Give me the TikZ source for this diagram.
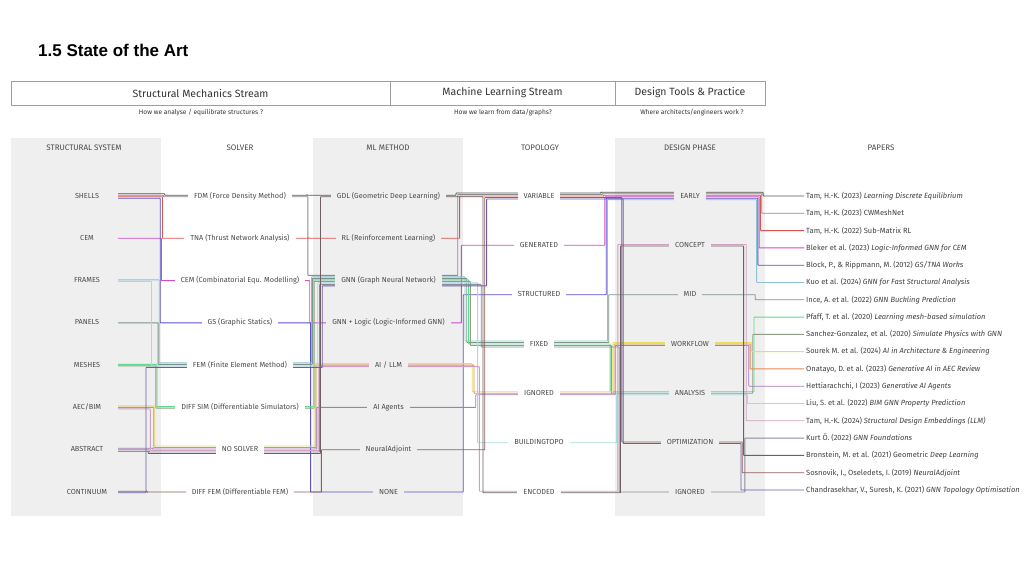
\documentclass[tikz,border=0pt]{standalone}
\usepackage{fontspec}
\setmainfont{Fira Sans}
\newfontfamily\titlefont{Liberation Sans}
\usetikzlibrary{calc}
\pgfdeclarelayer{panels}
\pgfdeclarelayer{lines}
\pgfsetlayers{panels,lines,main}
\definecolor{panelgray}{HTML}{EFEFEF}
\definecolor{txt}{HTML}{4A4A4A}
\definecolor{hdr}{HTML}{333333}
\definecolor{pc1}{HTML}{555555}
\definecolor{pc2}{HTML}{8C8C8C}
\definecolor{pc3}{HTML}{D9534F}
\definecolor{pc4}{HTML}{D44AC8}
\definecolor{pc5}{HTML}{5A4FCF}
\definecolor{pc6}{HTML}{8EC1D6}
\definecolor{pc7}{HTML}{7D9488}
\definecolor{pc8}{HTML}{5FD98F}
\definecolor{pc9}{HTML}{8F9E84}
\definecolor{pc10}{HTML}{E3E15A}
\definecolor{pc11}{HTML}{E9894C}
\definecolor{pc12}{HTML}{A77BB9}
\definecolor{pc13}{HTML}{A7DADF}
\definecolor{pc14}{HTML}{CFA0BF}
\definecolor{pc15}{HTML}{8B8B9B}
\definecolor{pc16}{HTML}{6F5F62}
\definecolor{pc17}{HTML}{8F5F56}
\definecolor{pc18}{HTML}{6C5CA8}
\tikzset{
  lbl/.style={font=\fontsize{7.3}{8.5}\selectfont, text=txt, inner xsep=6pt, inner ysep=3.3pt, text height=5.4pt, text depth=1.3pt},
  lblg/.style={lbl, fill=panelgray},
  lblw/.style={lbl, fill=white},
  colhead/.style={font=\fontsize{8}{9}\selectfont, text=txt},
  hbox/.style={draw=black!38, line width=0.6pt, minimum height=24pt, font=\fontsize{10.5}{12}\selectfont, text=hdr, inner sep=0pt},
  sub/.style={font=\fontsize{6.6}{8}\selectfont, text=hdr},
  paper/.style={font=\fontsize{7.5}{9}\selectfont, text=black!75, anchor=west, inner sep=0pt},
  flow/.style={line width=0.85pt, rounded corners=0.5pt}
}
\begin{document}
\begin{tikzpicture}[x=1pt,y=-1pt]
\useasboundingbox (0,0) rectangle (1024,576);
% title
\node[anchor=base west, inner sep=0pt, font=\titlefont\bfseries\fontsize{17}{20}\selectfont] (title) at (38,56) {1.5 State of the Art};
% stream header boxes
\node[hbox, minimum width=379pt] (hsm) at (200.5,93) {Structural Mechanics Stream};
\node[hbox, minimum width=225pt] (hml) at (502.5,93) {Machine Learning Stream};
\node[hbox, minimum width=150pt] (hdt) at (690,93) {Design Tools \& Practice};
\node[sub] (ssm) at (201,113) {How we analyse / equilibrate structures ?};
\node[sub] (sml) at (503,113) {How we learn from data/graphs?};
\node[sub] (sdt) at (692,113) {Where architects/engineers work ?};
% panels
\begin{pgfonlayer}{panels}
\fill[panelgray] (11,138) rectangle (161,516);
\fill[panelgray] (313,138) rectangle (463,516);
\fill[panelgray] (615,138) rectangle (765,516);
\end{pgfonlayer}
% column headers
\node[colhead] (hSys) at (84,148) {STRUCTURAL SYSTEM};
\node[colhead] (hSol) at (240,148) {SOLVER};
\node[colhead] (hMl) at (388,148) {ML METHOD};
\node[colhead] (hTop) at (540,148) {TOPOLOGY};
\node[colhead] (hDes) at (690,148) {DESIGN PHASE};
\node[colhead] (hPap) at (881,148) {PAPERS};
% column 1
\node[lblg] (sShells) at (87,196) {SHELLS};
\node[lblg] (sCem) at (87,238.3) {CEM};
\node[lblg] (sFrames) at (87,280.6) {FRAMES};
\node[lblg] (sPanels) at (87,322.9) {PANELS};
\node[lblg] (sMeshes) at (87,365.1) {MESHES};
\node[lblg] (sAec) at (87,407.4) {AEC/BIM};
\node[lblg] (sAbstract) at (87,449.7) {ABSTRACT};
\node[lblg] (sCont) at (87,492) {CONTINUUM};
% column 2
\node[lblw] (vFdm) at (240,196) {FDM (Force Density Method)};
\node[lblw] (vTna) at (240,238.3) {TNA (Thrust Network Analysis)};
\node[lblw] (vCem) at (240,280.6) {CEM (Combinatorial Equ. Modelling)};
\node[lblw] (vGs) at (240,322.9) {GS (Graphic Statics)};
\node[lblw] (vFem) at (240,365.1) {FEM (Finite Element Method)};
\node[lblw] (vDsim) at (240,407.4) {DIFF SIM (Differentiable Simulators)};
\node[lblw] (vNos) at (240,449.7) {NO SOLVER};
\node[lblw] (vDfem) at (240,492) {DIFF FEM (Differentiable FEM)};
% column 3
\node[lblg] (mGdl) at (388.5,196) {GDL (Geometric Deep Learning)};
\node[lblg] (mRl) at (388.5,238.3) {RL (Reinforcement Learning)};
\node[lblg] (mGnn) at (388.5,280.6) {GNN (Graph Neural Network)};
\node[lblg] (mGnnl) at (388.5,322.9) {GNN + Logic (Logic-Informed GNN)};
\node[lblg] (mLlm) at (388.5,365.1) {AI / LLM};
\node[lblg] (mAgents) at (388.5,407.4) {AI Agents};
\node[lblg] (mAdj) at (388.5,449.7) {NeuralAdjoint};
\node[lblg] (mNone) at (388.5,492) {NONE};
% column 4
\node[lblw] (tVar) at (539,196) {VARIABLE};
\node[lblw] (tGen) at (539,245.3) {GENERATED};
\node[lblw] (tStruct) at (539,294.7) {STRUCTURED};
\node[lblw] (tFixed) at (539,344) {FIXED};
\node[lblw] (tIgn) at (539,393.3) {IGNORED};
\node[lblw] (tBtopo) at (539,442.7) {BUILDINGTOPO};
\node[lblw] (tEnc) at (539,492) {ENCODED};
% column 5
\node[lblg] (dEarly) at (690,196) {EARLY};
\node[lblg] (dConcept) at (690,245.3) {CONCEPT};
\node[lblg] (dMid) at (690,294.7) {MID};
\node[lblg] (dWork) at (690,344) {WORKFLOW};
\node[lblg] (dAna) at (690,393.3) {ANALYSIS};
\node[lblg] (dOpt) at (690,442.7) {OPTIMIZATION};
\node[lblg] (dIgn) at (690,492) {IGNORED};
% papers
\node[paper] (p1) at (806,196) {Tam, H.-K. (2023) \textit{Learning Discrete Equilibrium}};
\node[paper] (p2) at (806,213.3) {Tam, H.-K. (2023) CWMeshNet};
\node[paper] (p3) at (806,230.6) {Tam, H.-K. (2022) Sub-Matrix RL};
\node[paper] (p4) at (806,247.9) {Bleker et al. (2023) \textit{Logic-Informed GNN for CEM}};
\node[paper] (p5) at (806,265.2) {Block, P., \& Rippmann, M. (2012) \textit{GS/TNA Works}};
\node[paper] (p6) at (806,282.5) {Kuo et al. (2024) \textit{GNN for Fast Structural Analysis}};
\node[paper] (p7) at (806,299.8) {Ince, A. et al. (2022) \textit{GNN Buckling Prediction}};
\node[paper] (p8) at (806,317.1) {Pfaff, T. et al. (2020) \textit{Learning mesh-based simulation}};
\node[paper] (p9) at (806,334.4) {Sanchez-Gonzalez, et al. (2020) \textit{Simulate Physics with GNN}};
\node[paper] (p10) at (806,351.6) {Sourek M. et al. (2024) \textit{AI in Architecture \& Engineering}};
\node[paper] (p11) at (806,368.9) {Onatayo, D. et al. (2023) \textit{Generative AI in AEC Review}};
\node[paper] (p12) at (806,386.2) {Hettiarachchi, I (2023) \textit{Generative AI Agents}};
\node[paper] (p13) at (806,403.5) {Liu, S. et al. (2022) \textit{BIM GNN Property Prediction}};
\node[paper] (p14) at (806,420.8) {Tam, H.-K. (2024) \textit{Structural Design Embeddings (LLM)}};
\node[paper] (p15) at (806,438.1) {Kurt Ö. (2022) \textit{GNN Foundations}};
\node[paper] (p16) at (806,455.4) {Bronstein, M. et al. (2021) Geometric \textit{Deep Learning}};
\node[paper] (p17) at (806,472.7) {Sosnovik, I., Oseledets, I. (2019) \textit{NeuralAdjoint}};
\node[paper] (p18) at (806,490) {Chandrasekhar, V., Suresh, K. (2021) \textit{GNN Topology Optimisation}};
% flows
\begin{pgfonlayer}{lines}
\foreach \pc/\i/\nA/\oA/\nB/\oB/\nC/\oC/\nD/\oD/\nE/\oE/\pp in {
 pc1/0/sShells/2.25/vFdm/0.75/mGdl/0.75/tVar/3/dEarly/3.75/p1,
 pc2/1/sShells/0.75/vFdm/-0.75/mGnn/5.25/tVar/1.5/dEarly/2.25/p2,
 pc3/2/sShells/-0.75/vTna/0/mRl/0/tVar/0/dEarly/0.75/p3,
 pc4/3/sCem/0/vCem/0/mGnnl/0/tGen/0/dEarly/-0.75/p4,
 pc5/4/sShells/-2.25/vGs/0/mNone/0/tStruct/0/dEarly/-2.25/p5,
 pc6/5/sFrames/0.75/vFem/2.25/mGnn/3.75/tFixed/3/dEarly/-3.75/p6,
 pc7/6/sPanels/0/vFem/0.75/mGnn/2.25/tFixed/1.5/dMid/0/p7,
 pc8/7/sMeshes/0.75/vDsim/0.75/mGnn/0.75/tFixed/0/dAna/1.5/p8,
 pc9/8/sMeshes/-0.75/vDsim/-0.75/mGnn/-0.75/tFixed/-1.5/dAna/0/p9,
 pc10/9/sAec/1.5/vNos/3.75/mLlm/1.5/tIgn/1.5/dWork/1.5/p10,
 pc11/10/sAec/0/vNos/2.25/mLlm/0/tIgn/0/dWork/0/p11,
 pc12/11/sAbstract/1.5/vNos/0.75/mAgents/0/tIgn/-1.5/dWork/-1.5/p12,
 pc13/12/sFrames/-0.75/vFem/-0.75/mGnn/-2.25/tBtopo/0/dAna/-1.5/p13,
 pc14/13/sAec/-1.5/vNos/-0.75/mLlm/-1.5/tEnc/0.75/dConcept/0.75/p14,
 pc15/14/sAbstract/0/vNos/-2.25/mGnn/-3.75/tFixed/-3/dIgn/0/p15,
 pc16/15/sAbstract/-1.5/vNos/-3.75/mGdl/-0.75/tEnc/-0.75/dConcept/-0.75/p16,
 pc17/16/sCont/0.75/vDfem/0/mAdj/0/tVar/-1.5/dOpt/0.75/p17,
 pc18/17/sCont/-0.75/vFem/-2.25/mGnn/-5.25/tVar/-3/dOpt/-0.75/p18}{
  \pgfmathsetmacro\cA{146+1.1*(17-\i)}
  \pgfmathsetmacro\cB{307+0.9*\i}
  \pgfmathsetmacro\cC{456+1.8*\i}
  \pgfmathsetmacro\cD{601+1.3*\i}
  \pgfmathsetmacro\cE{741+1.3*(17-\i)}
  \draw[flow, draw=\pc] let \p1=(\nA.center), \p2=(\nB.center), \p3=(\nC.center),
      \p4=(\nD.center), \p5=(\nE.center), \p6=(\pp.west) in
    (118pt,\y1+\oA pt) -- (\cA pt,\y1+\oA pt) -- (\cA pt,\y2+\oB pt)
    -- (\cB pt,\y2+\oB pt) -- (\cB pt,\y3+\oC pt)
    -- (\cC pt,\y3+\oC pt) -- (\cC pt,\y4+\oD pt)
    -- (\cD pt,\y4+\oD pt) -- (\cD pt,\y5+\oE pt)
    -- (\cE pt,\y5+\oE pt) -- (\cE pt,\y6) -- (\x6-2pt,\y6);
}
\end{pgfonlayer}
\end{tikzpicture}
\end{document}
